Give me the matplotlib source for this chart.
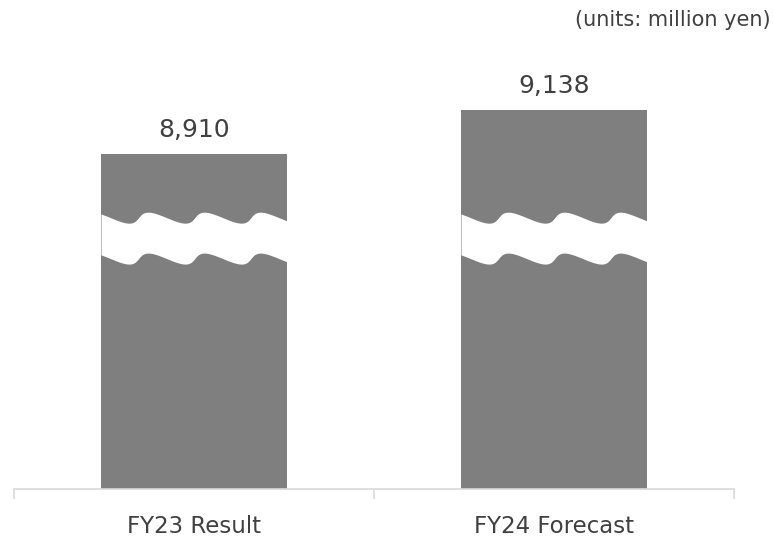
import numpy as np
import matplotlib.pyplot as plt

categories = ['FY23 Result', 'FY24 Forecast']
values = [8910, 9138]
unit_note = '(units: million yen)'

BAR_COLOR = '#7f7f7f'
TEXT_COLOR = '#404040'
AXIS_COLOR = '#d9d9d9'

# visible part of the value axis (bars are cut by a wavy break)
Y_MIN = 7175
Y_MAX = 9398
BAR_WIDTH = 0.517

# break band, in value units
BREAK_TOP = 8581
BREAK_GAP = 212
WAVE_AMP = 28.5
WAVE_PERIOD = 0.156   # in category units
WAVE_SKEW = 0.505
WAVE_SHIFT = -0.025


def wave_band(ax, center):
    left = center - BAR_WIDTH / 2
    right = center + BAR_WIDTH / 2
    u = np.linspace(-2 * np.pi, 10 * np.pi, 2000)
    x = left + WAVE_SHIFT + WAVE_PERIOD / (2 * np.pi) * (u + WAVE_SKEW * (1 - np.cos(u)))
    y_top = BREAK_TOP + WAVE_AMP * np.cos(u)
    keep = (x >= left) & (x <= right)
    ax.fill_between(x[keep], y_top[keep], y_top[keep] - BREAK_GAP,
                    color='white', linewidth=0, zorder=3)


fig = plt.figure(figsize=(7.73, 5.41), dpi=100)
ax = fig.add_axes([14 / 773, 52 / 541, 720 / 773, 429 / 541])

pos = np.arange(len(categories))
ax.bar(pos, values, width=BAR_WIDTH, color=BAR_COLOR, zorder=2)
for p in pos:
    wave_band(ax, p)

for p, v in zip(pos, values):
    ax.annotate(f'{v:,}', (p, v), xytext=(0, 17.5), textcoords='offset points',
                ha='center', va='center', fontsize=18, color=TEXT_COLOR)

ax.set_xlim(-0.5, len(categories) - 0.5)
ax.set_ylim(Y_MIN, Y_MAX)

for side in ['top', 'right', 'left']:
    ax.spines[side].set_visible(False)
ax.spines['bottom'].set_color(AXIS_COLOR)
ax.spines['bottom'].set_linewidth(1.2)
ax.set_yticks([])

ax.set_xticks(pos)
ax.set_xticklabels(categories, fontsize=16.5, color=TEXT_COLOR)
ax.tick_params(axis='x', which='major', length=0, pad=19)
ax.set_xticks(np.arange(-0.5, len(categories)), minor=True)
ax.tick_params(axis='x', which='minor', length=7, color=AXIS_COLOR, width=1.2)

fig.text(771 / 773, 1 - 20 / 541, unit_note, ha='right', va='center',
         fontsize=15, color=TEXT_COLOR)

fig.savefig('out.png', dpi=100)
